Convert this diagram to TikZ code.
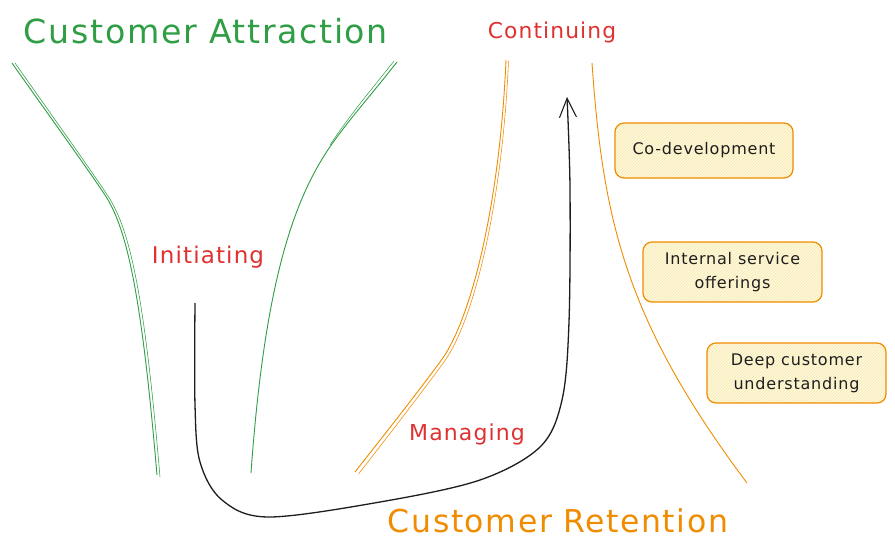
\documentclass[tikz,border=0pt]{standalone}
\usepackage{fontspec}
\setmainfont{DejaVu Sans}[LetterSpace=5]
\usetikzlibrary{arrows.meta,patterns}
\definecolor{cgreen}{HTML}{2F9E44}
\definecolor{cred}{HTML}{E03131}
\definecolor{corange}{HTML}{F08C00}
\definecolor{cink}{HTML}{1E1E1E}
\definecolor{boxfill}{HTML}{FFF9DB}
\definecolor{hatch}{HTML}{F5E7B0}
\tikzset{
  title/.style={anchor=base,inner sep=0pt},
  redlbl/.style={anchor=base,inner sep=0pt,text=cred},
  funnel/.style={line width=0.9pt},
  itembox/.style={draw=corange,line width=1.2pt,rounded corners=9pt,
    preaction={fill=boxfill},pattern=north east lines,pattern color=hatch,
    text=cink,font=\fontsize{16}{24}\selectfont,align=center,inner sep=0pt},
  flow/.style={draw=cink,line width=1.3pt,-{Straight Barb[length=19pt,width=17pt,line width=1.1pt]}}
}
\begin{document}
\begin{tikzpicture}[x=1pt,y=-1pt]
\useasboundingbox[fill=white] (0,0) rectangle (895,554);
% titles
\node[title,text=cgreen,font=\fontsize{33.2}{38}\selectfont] (attr) at (206,43) {Customer Attraction};
\node[title,text=corange,font=\fontsize{31.5}{36}\selectfont] (ret) at (558,532) {Customer Retention};
\node[redlbl,font=\fontsize{23}{28}\selectfont] (init) at (208,263) {Initiating};
\node[redlbl,font=\fontsize{21.8}{26}\selectfont] (cont) at (552,38) {Continuing};
\node[redlbl,font=\fontsize{22}{26}\selectfont] (mng) at (467,440) {Managing};
% green funnel
\draw[funnel,cgreen] (12,63) .. controls (50,117) and (85,165) .. (105,195) .. controls (128,230) and (142,300) .. (157,475);
\draw[funnel,cgreen,line width=0.55pt] (15,63) .. controls (53,117) and (88,166) .. (108,196) .. controls (131,231) and (145,301) .. (160,477);
\draw[funnel,cgreen] (397,62) .. controls (375,90) and (355,113) .. (340,133) .. controls (300,185) and (266,262) .. (251,473);
\draw[funnel,cgreen,line width=0.5pt] (394,61) .. controls (372,89) and (352,112) .. (330,145);
% orange funnel
\draw[funnel,corange] (506,60) .. controls (500,200) and (472,320) .. (440,362) .. controls (412,400) and (380,440) .. (355,472);
\draw[funnel,corange,line width=0.55pt] (508.5,61) .. controls (502.5,201) and (474.5,322) .. (442.5,364) .. controls (414.5,402) and (383.5,442) .. (358.5,474);
\draw[funnel,corange] (592,63) .. controls (603,220) and (625,320) .. (747,483);
% boxes
\node[itembox,minimum width=178pt,minimum height=55pt] (codev) at (704,150.5) {Co-development};
\node[itembox,minimum width=179pt,minimum height=60pt] (inter) at (732.5,272) {Internal service\\offerings};
\node[itembox,minimum width=179pt,minimum height=60pt] (deep) at (796.5,373) {Deep customer\\understanding};
% flow arrow
\coordinate (arrS) at (195,303);
\coordinate (arrE) at (567,97);
\draw[flow] plot[smooth,tension=0.55] coordinates {(arrS) (195,405) (200,462) (222,500) (268,517) (380,502) (480,480) (540,447) (562,400) (569,322) (570,188) (arrE)};
\end{tikzpicture}
\end{document}
